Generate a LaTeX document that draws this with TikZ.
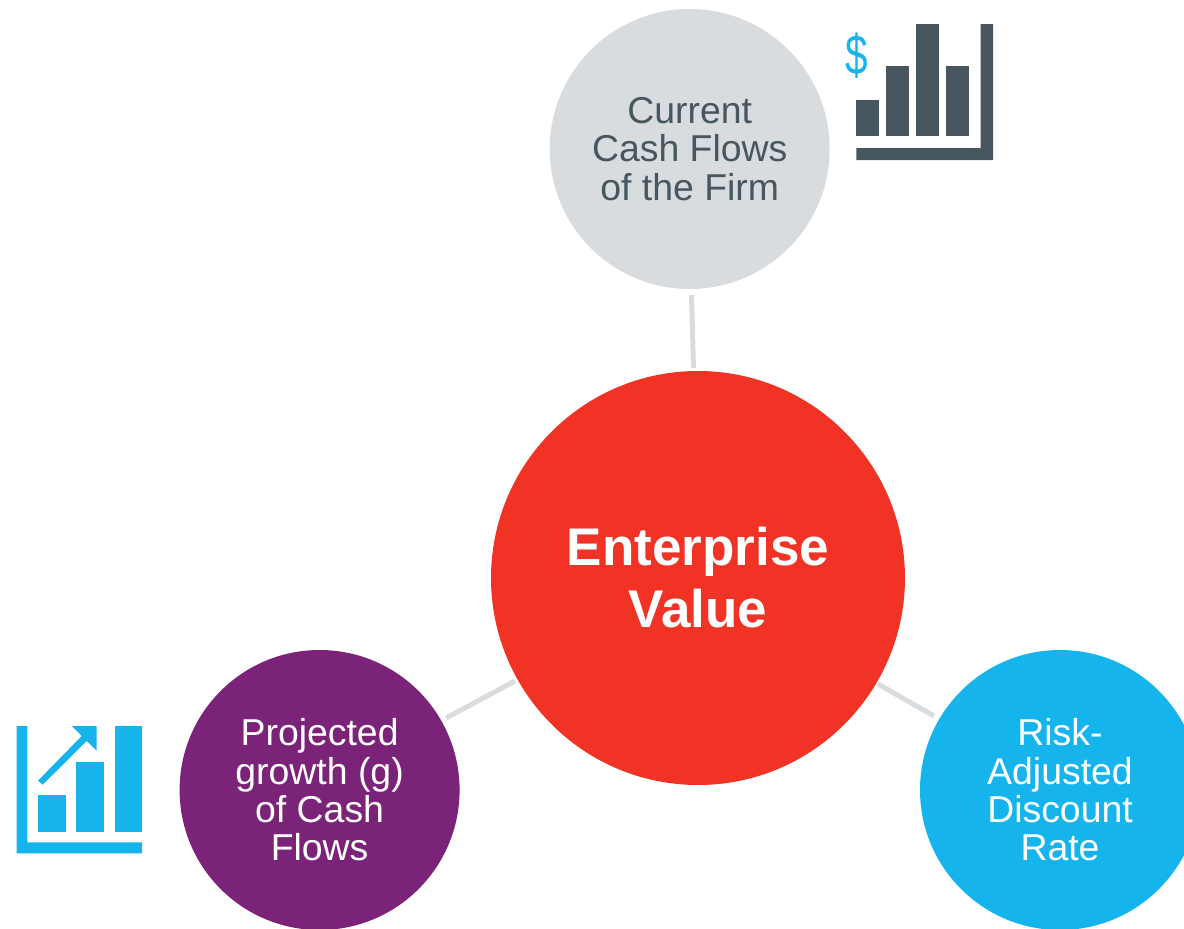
\documentclass[tikz,border=0pt]{standalone}
\usepackage{fontspec}
\setmainfont{Liberation Sans}
\definecolor{hubred}{HTML}{F03324}
\definecolor{palegrey}{HTML}{D9DCDF}
\definecolor{slate}{HTML}{47565F}
\definecolor{plum}{HTML}{7B2378}
\definecolor{sky}{HTML}{15B4EC}
\tikzset{
  x=1pt,y=-1pt,
  sat/.style={circle,inner sep=0pt,minimum size=280pt,align=center,font=\fontsize{37.4}{38.3}\selectfont},
  link/.style={draw=palegrey,line width=5pt},
  slatefill/.style={fill=slate,draw=none},
  skyfill/.style={fill=sky,draw=none}
}
\begin{document}
\begin{tikzpicture}
\useasboundingbox (0,0) rectangle (1184,929);
\clip (0,0) rectangle (1184,929);
\node[circle,fill=hubred,inner sep=0pt,minimum size=414pt,align=center,text=white,font=\fontsize{53}{62}\selectfont\bfseries] (hub) at (698,578) {Enterprise\\Value};
\node[sat,fill=palegrey,text=slate] (cash) at (689.7,149) {Current\\Cash Flows\\of the Firm};
\node[sat,fill=plum,text=white] (growth) at (319.6,790) {Projected\\growth (g)\\of Cash\\Flows};
\node[sat,fill=sky,text=white] (rate) at (1060,790) {Risk-\\Adjusted\\Discount\\Rate};
\coordinate (a1) at (691.5,295); \coordinate (a2) at (693.5,368);
\coordinate (b1) at (446,718); \coordinate (b2) at (515,681);
\coordinate (c1) at (934,716); \coordinate (c2) at (878,684);
\draw[link] (a1) -- (a2);
\draw[link] (b1) -- (b2);
\draw[link] (c1) -- (c2);
% bar chart icon, top
\fill[slatefill] (856.3,100) rectangle (878.7,136);
\fill[slatefill] (886,66) rectangle (909,136);
\fill[slatefill] (916,24) rectangle (939,136);
\fill[slatefill] (946.3,66) rectangle (968.7,136);
\fill[slatefill] (856.3,148) -- (980.7,148) -- (980.7,24) -- (993,24) -- (993,160) -- (856.3,160) -- cycle;
\node[text=sky,inner sep=0pt,font=\fontsize{46}{46}\selectfont,xscale=0.88,yscale=1.22] (dollar) at (857,55.5) {\$};
% growth icon, left
\fill[skyfill] (16.7,726) -- (27.3,726) -- (27.3,842.3) -- (142,842.3) -- (142,853.3) -- (16.7,853.3) -- cycle;
\fill[skyfill] (38,795) rectangle (66,832);
\fill[skyfill] (76.3,762.3) rectangle (103.7,831.5);
\fill[skyfill] (114.7,726) rectangle (142,831.5);
\fill[skyfill] (72,726) -- (96.7,726) -- (96.7,750.7) -- (86.7,741) -- (42.7,784.7) -- (38,780.7) -- (81.7,736) -- cycle;
\end{tikzpicture}
\end{document}
